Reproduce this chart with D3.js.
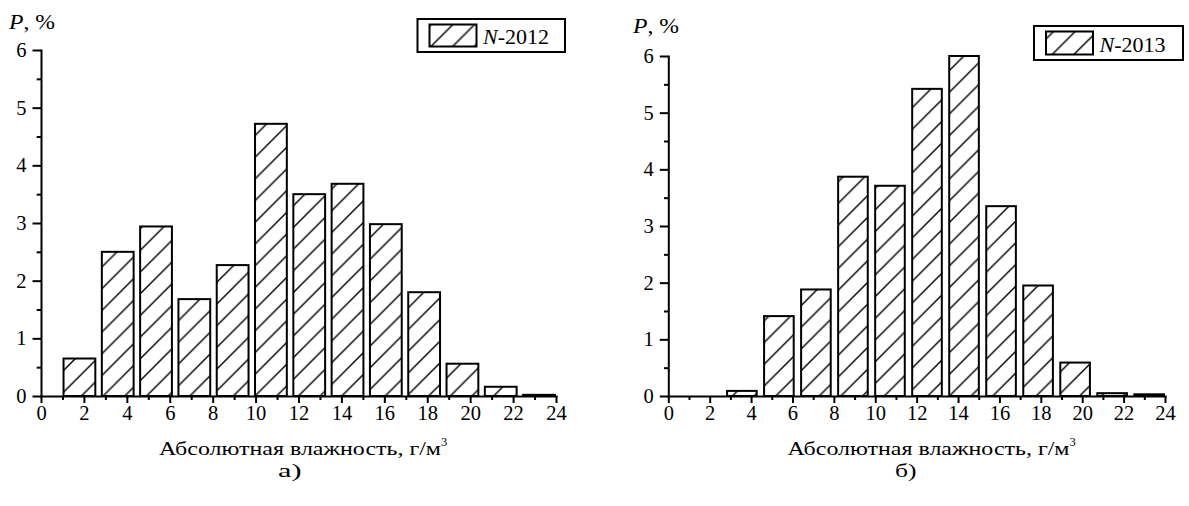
<!DOCTYPE html>
<html>
<head>
<meta charset="utf-8">
<script src="https://cdn.jsdelivr.net/npm/d3@7"></script>
<style>
  html, body { margin: 0; padding: 0; background: #fff; }
  svg { display: block; }
</style>
</head>
<body>
<svg id="chart" width="1189" height="506"></svg>
<script>
// ---- data ----
const bins = ["b1","b2","b3","b4","b5","b6","b7","b8","b9","b10","b11","b12","b13"];
const values2012 = [0.65, 2.50, 2.94, 1.68, 2.27, 4.72, 3.50, 3.68, 2.98, 1.80, 0.56, 0.16, 0.02];
const values2013 = [0.00, 0.09, 1.41, 1.88, 3.87, 3.71, 5.42, 6.00, 3.35, 1.95, 0.59, 0.05, 0.03];
const xTicksMajor = [0, 2, 4, 6, 8, 10, 12, 14, 16, 18, 20, 22, 24];
const xTicksMinor = [1, 3, 5, 7, 9, 11, 13, 15, 17, 19, 21, 23];
const yTicksMajor = [0, 1, 2, 3, 4, 5, 6];
const yTicksMinor = [0.5, 1.5, 2.5, 3.5, 4.5, 5.5];
const binRange = [1.05, 23.95];
const xDomain = [0, 24];
const yDomain = [0, 6];
const legend2012 = "-2012";
const legend2013 = "-2013";
const xTitle = "Абсолютная влажность, г/м";
const yTitle = ", %";

const FONT = '"Liberation Serif", "Times New Roman", Tinos, serif';
const svg = d3.select("#chart");
const defs = svg.append("defs");
const s = 21.7;
defs.append("pattern")
  .attr("id", "hatch")
  .attr("patternUnits", "userSpaceOnUse")
  .attr("width", s).attr("height", s)
  .append("path")
  .attr("d", `M0,${s} L${s},0 M${-s/2},${s/2} L${s/2},${-s/2} M${s/2},${1.5*s} L${1.5*s},${s/2}`)
  .attr("stroke", "#000").attr("stroke-width", 1.4).attr("fill", "none");

function txt(g, x, y, size) {
  return g.append("text").attr("x", x).attr("y", y)
    .style("font-family", FONT).style("font-size", size + "px").style("fill", "#000");
}

function panel(cfg) {
  const g = svg.append("g");
  const x = d3.scaleLinear().domain(xDomain).range([cfg.x0, cfg.x1]);
  const y = d3.scaleLinear().domain(yDomain).range([cfg.y0, cfg.y1]);
  const band = d3.scaleBand().domain(bins)
    .range([x(binRange[0]), x(binRange[1])])
    .paddingInner(cfg.pad).paddingOuter(0);

  // bars
  g.selectAll("rect.bar").data(cfg.values).join("rect")
    .attr("class", "bar")
    .attr("x", (d, i) => band(bins[i]))
    .attr("width", band.bandwidth())
    .attr("y", d => y(d))
    .attr("height", d => y(0) - y(d))
    .attr("fill", "url(#hatch)")
    .attr("stroke", "#000").attr("stroke-width", d => d > 0 ? 2 : 0);

  // x axis
  g.append("g").attr("transform", `translate(0,${cfg.y0})`)
    .call(d3.axisBottom(x).tickValues(xTicksMajor).tickSize(7).tickSizeOuter(0).tickPadding(2).tickFormat(d3.format("d")));
  g.append("g").attr("transform", `translate(0,${cfg.y0})`)
    .call(d3.axisBottom(x).tickValues(xTicksMinor).tickSize(4).tickSizeOuter(0).tickFormat(""))
    .select(".domain").remove();
  // y axis
  g.append("g").attr("transform", `translate(${cfg.x0},0)`)
    .call(d3.axisLeft(y).tickValues(yTicksMajor).tickSize(8.5).tickSizeOuter(0).tickPadding(6).tickFormat(d3.format("d")));
  g.append("g").attr("transform", `translate(${cfg.x0},0)`)
    .call(d3.axisLeft(y).tickValues(yTicksMinor).tickSize(4.3).tickSizeOuter(0).tickFormat(""))
    .select(".domain").remove();

  g.selectAll(".domain, .tick line").attr("stroke", "#000").attr("stroke-width", 2);
  g.selectAll("path.domain").attr("stroke-linecap", "square");
  g.selectAll(".tick text")
    .style("font-family", FONT).style("font-size", "20.5px").style("fill", "#000");

  // y title
  const yt = txt(g, cfg.ytx, cfg.yty, 21).attr("textLength", 46).attr("lengthAdjust", "spacingAndGlyphs");
  yt.append("tspan").style("font-style", "italic").text("P");
  yt.append("tspan").text(yTitle);

  // x title
  txt(g, cfg.xtx, 455, 19).attr("textLength", 282).attr("lengthAdjust", "spacingAndGlyphs").text(xTitle);
  txt(g, cfg.xtx + 282, 446, 12.5).text("3");

  // panel label
  txt(g, cfg.lbx, 477, 19).attr("textLength", cfg.lbw).attr("lengthAdjust", "spacingAndGlyphs").text(cfg.label);

  // legend
  const L = cfg.legend;
  g.append("rect").attr("x", L.x).attr("y", L.y).attr("width", L.w).attr("height", L.h)
    .attr("fill", "#fff").attr("stroke", "#000").attr("stroke-width", 2);
  g.append("rect").attr("x", L.x + 12).attr("y", L.y + 5.5).attr("width", 47).attr("height", L.h - 11)
    .attr("fill", "url(#hatch)").attr("stroke", "#000").attr("stroke-width", 2);
  const lt = txt(g, L.x + 65.5, L.ty, 22);
  lt.append("tspan").style("font-style", "italic").text("N");
  lt.append("tspan").text(L.text);
}

panel({
  x0: 41, x1: 556, y0: 396, y1: 50, pad: 0.17,
  values: values2012,
  ytx: 9, yty: 29, xtx: 159, lbx: 278, lbw: 23.5, label: "а)",
  legend: { x: 417.5, y: 19, w: 147.5, h: 33, ty: 43.5, text: legend2012 }
});
panel({
  x0: 668.3, x1: 1165, y0: 396, y1: 56, pad: 0.2,
  values: values2013,
  ytx: 633, yty: 32.5, xtx: 787.5, lbx: 895, lbw: 21.5, label: "б)",
  legend: { x: 1034, y: 26, w: 149, h: 34, ty: 51.5, text: legend2013 }
});
</script>
</body>
</html>
